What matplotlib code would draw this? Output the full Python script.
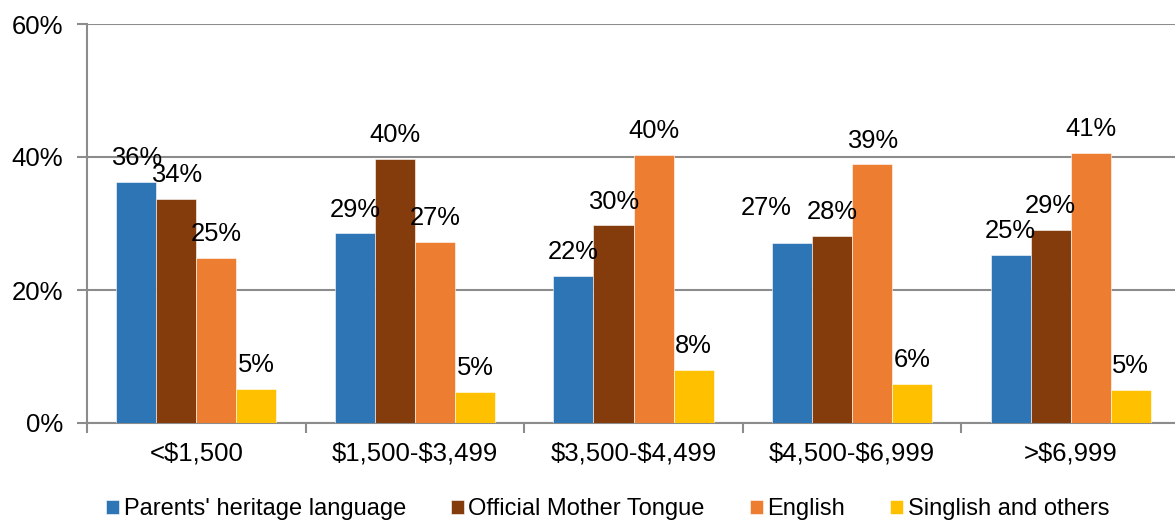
import matplotlib.pyplot as plt
import numpy as np

plt.rcParams['font.family'] = ['Liberation Sans', 'DejaVu Sans']
plt.rcParams['text.parse_math'] = False

categories = ['<$1,500', '$1,500-$3,499', '$3,500-$4,499', '$4,500-$6,999', '>$6,999']
series = ["Parents' heritage language", 'Official Mother Tongue', 'English', 'Singlish and others']
heritage = [36.3, 28.5, 22.1, 27.1, 25.3]
mother_tongue = [33.7, 39.7, 29.7, 28.1, 29.0]
english = [24.8, 27.2, 40.3, 38.9, 40.6]
singlish = [5.1, 4.7, 8.0, 5.9, 5.0]
labels = [[36, 29, 22, 27, 25], [34, 40, 30, 28, 29], [25, 27, 40, 39, 41], [5, 5, 8, 6, 5]]
colors = ['#2E75B6', '#843C0C', '#ED7D31', '#FFC000']

fig = plt.figure(figsize=(11.75, 5.22), dpi=100)
ax = fig.add_axes([87/1175, 1 - 423/522, (1180 - 87)/1175, (423 - 24)/522])

# the 27% label in the 4th group was nudged up-left in the original
nudge = {(0, 3): (-19, 20)}

x = np.arange(len(categories))
w = 0.183
for i, vals in enumerate([heritage, mother_tongue, english, singlish]):
    pos = x + (i - 1.5) * w
    ax.bar(pos, vals, w, color=colors[i], edgecolor='white', linewidth=0.4,
           label=series[i], zorder=3)
    for j, (px, v, lab) in enumerate(zip(pos, vals, labels[i])):
        ax.annotate(f'{lab}%', (px, v), xytext=nudge.get((i, j), (0, 12)),
                    textcoords='offset points', ha='center', va='baseline',
                    fontsize=18.4, zorder=4)

ax.set_xlim(-0.5, len(categories) - 0.5)
ax.set_ylim(0, 60)
ax.set_yticks([0, 20, 40, 60])
ax.set_yticklabels(['0%', '20%', '40%', '60%'], fontsize=18.5)
ax.yaxis.grid(True, color='#8c8c8c', linewidth=1.5, zorder=0)

ax.set_xticks(np.arange(len(categories) + 1) - 0.5)
ax.set_xticklabels([])
ax.set_xticks(x, minor=True)
ax.set_xticklabels(categories, minor=True, fontsize=18.5)
ax.tick_params(axis='x', which='major', length=7, width=1.5, color='#8c8c8c')
ax.tick_params(axis='x', which='minor', length=0, pad=13)
ax.tick_params(axis='y', length=7, width=1.5, color='#8c8c8c', pad=10)

for s in ['top', 'right']:
    ax.spines[s].set_visible(False)
for s in ['left', 'bottom']:
    ax.spines[s].set_color('#8c8c8c')
    ax.spines[s].set_linewidth(1.5)

fig.legend(loc='lower center', bbox_to_anchor=(0.517, -0.037), ncol=4, frameon=False,
           fontsize=17, handlelength=0.55, handleheight=0.55, handletextpad=0.2,
           columnspacing=1.9)

fig.savefig('out.png', dpi=100)
